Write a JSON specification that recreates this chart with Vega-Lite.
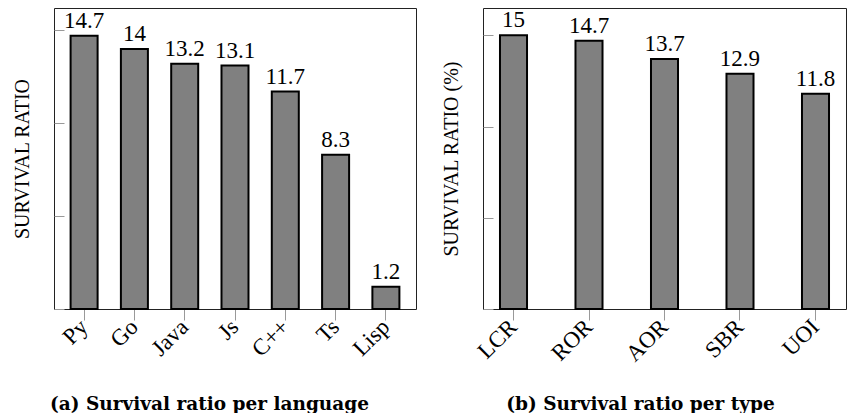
{
  "$schema": "https://vega.github.io/schema/vega-lite/v6.json",
  "padding": {"left": 11, "top": 7, "right": 0, "bottom": 0},
  "background": "white",
  "spacing": 23,
  "config": {
    "view": {"stroke": "#222", "strokeWidth": 1},
    "axis": {"domain": false, "grid": false, "tickColor": "#999", "tickWidth": 1, "labelFont": "Liberation Serif", "labelColor": "#000", "titleColor": "#000"}
  },
  "hconcat": [
    {
      "width": 362,
      "height": 301,
      "data": {"values": [
        {"lang": "Py", "ratio": 14.7},
        {"lang": "Go", "ratio": 14},
        {"lang": "Java", "ratio": 13.2},
        {"lang": "Js", "ratio": 13.1},
        {"lang": "C++", "ratio": 11.7},
        {"lang": "Ts", "ratio": 8.3},
        {"lang": "Lisp", "ratio": 1.2}
      ]},
      "encoding": {
        "x": {"field": "lang", "type": "nominal", "sort": null,
          "scale": {"paddingInner": 0.463, "paddingOuter": 0.33},
          "axis": {"title": "(a) Survival ratio per language", "titleFont": "DejaVu Serif", "titleFontWeight": "bold", "titleFontSize": 18.5,
            "titleX": 155, "titleY": 100, "titleAlign": "center", "titleBaseline": "alphabetic",
            "labelAngle": -45, "labelAlign": "right", "labelBaseline": "middle", "labelFontSize": 23, "labelPadding": 3, "tickSize": 11}},
        "y": {"field": "ratio", "type": "quantitative",
          "scale": {"domain": [0, 16.2], "nice": false},
          "axis": {"title": "SURVIVAL RATIO", "titleFont": "Liberation Serif", "titleFontWeight": "normal", "titleFontSize": 20, "titlePadding": 21.5,
            "labels": false, "values": [0, 5, 10, 15], "tickSize": -10}}
      },
      "layer": [
        {"mark": {"type": "bar", "fill": "#808080", "stroke": "#000", "strokeWidth": 2}},
        {"mark": {"type": "text", "font": "Liberation Serif", "fontSize": 23, "baseline": "alphabetic", "dy": -8, "color": "#000"},
         "encoding": {"text": {"field": "ratio", "type": "quantitative"}}}
      ]
    },
    {
      "width": 363,
      "height": 301,
      "data": {"values": [
        {"type": "LCR", "ratio": 15},
        {"type": "ROR", "ratio": 14.7},
        {"type": "AOR", "ratio": 13.7},
        {"type": "SBR", "ratio": 12.9},
        {"type": "UOI", "ratio": 11.8}
      ]},
      "encoding": {
        "x": {"field": "type", "type": "nominal", "sort": null,
          "scale": {"paddingInner": 0.642, "paddingOuter": 0.225},
          "axis": {"title": "(b) Survival ratio per type", "titleFont": "DejaVu Serif", "titleFontWeight": "bold", "titleFontSize": 18.5,
            "titleX": 157, "titleY": 100, "titleAlign": "center", "titleBaseline": "alphabetic",
            "labelAngle": -45, "labelAlign": "right", "labelBaseline": "middle", "labelFontSize": 23, "labelPadding": 3, "tickSize": 11}},
        "y": {"field": "ratio", "type": "quantitative",
          "scale": {"domain": [0, 16.5], "nice": false},
          "axis": {"title": "SURVIVAL RATIO (%)", "titleFont": "Liberation Serif", "titleFontWeight": "normal", "titleFontSize": 20, "titlePadding": 21.5,
            "labels": false, "values": [0, 5, 10, 15], "tickSize": -10}}
      },
      "layer": [
        {"mark": {"type": "bar", "fill": "#808080", "stroke": "#000", "strokeWidth": 2}},
        {"mark": {"type": "text", "font": "Liberation Serif", "fontSize": 23, "baseline": "alphabetic", "dy": -8, "color": "#000"},
         "encoding": {"text": {"field": "ratio", "type": "quantitative"}}}
      ]
    }
  ]
}
